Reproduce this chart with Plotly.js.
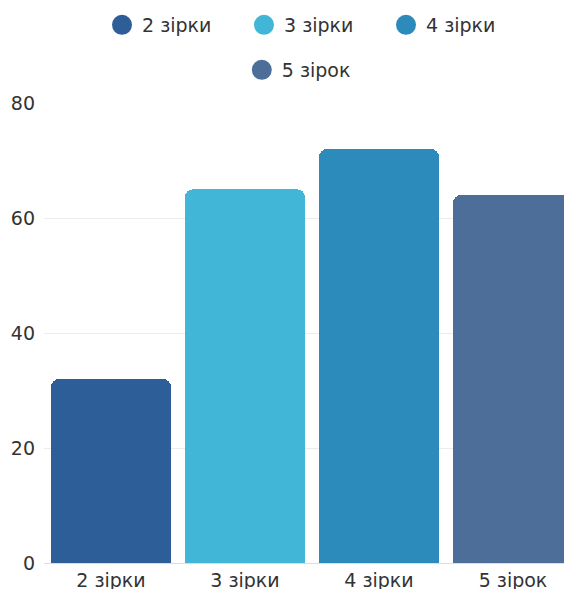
<!DOCTYPE html>
<html>
<head>
<meta charset="utf-8">
<script src="https://cdn.plot.ly/plotly-3.0.1.min.js"></script>
<style>html,body{margin:0;padding:0;overflow:hidden;background:#fff}</style>
</head>
<body>
<div id="chart"></div>
<script>
const categories = ["2 зірки", "3 зірки", "4 зірки", "5 зірок"];
const values = [32, 65, 72, 64];
const colors = ["#2E5E97", "#41B6D6", "#2C8BBA", "#4E6E9A"];
const yTicks = [0, 20, 40, 60, 80];

const FONT = "DejaVu Sans, sans-serif";
const traces = [];
categories.forEach((c, i) => {
  traces.push({
    type: "bar",
    x: [c],
    y: [values[i]],
    marker: {color: colors[i], cornerradius: 8},
    showlegend: false,
    hoverinfo: "x+y"
  });
});
categories.forEach((c, i) => {
  traces.push({
    type: "scatter",
    mode: "markers",
    x: [null],
    y: [null],
    name: c,
    marker: {color: colors[i], size: 16, symbol: "circle", line: {color: colors[i], width: 4}},
    legend: i < 3 ? "legend" : "legend2",
    showlegend: true
  });
});

const layout = {
  width: 600,
  height: 589,
  margin: {l: 44, r: 20, t: 103, b: 26, autoexpand: false},
  paper_bgcolor: "#fff",
  plot_bgcolor: "#fff",
  font: {family: FONT, size: 19, color: "#333"},
  barmode: "stack",
  bargap: 0.104,
  xaxis: {
    type: "category",
    categoryorder: "array",
    categoryarray: categories,
    showgrid: false,
    showline: true,
    linecolor: "#dddddd",
    linewidth: 1,
    ticks: "",
    tickfont: {family: FONT, size: 19, color: "#333"},
    fixedrange: true
  },
  yaxis: {
    range: [0, 80],
    tickvals: yTicks,
    showgrid: true,
    gridcolor: "#ececec",
    zeroline: false,
    showline: false,
    ticks: "",
    ticklabelstandoff: 8,
    tickfont: {family: FONT, size: 19, color: "#333"},
    fixedrange: true
  },
  legend: {
    orientation: "h",
    traceorder: "normal",
    xref: "container", yref: "container",
    x: 0.525, xanchor: "center",
    y: 1 - 25 / 589, yanchor: "middle",
    entrywidth: 97, entrywidthmode: "pixels",
    font: {family: FONT, size: 19, color: "#333"},
    itemclick: false
  },
  legend2: {
    orientation: "h",
    traceorder: "normal",
    xref: "container", yref: "container",
    x: 0.498, xanchor: "center",
    y: 1 - 70 / 589, yanchor: "middle",
    font: {family: FONT, size: 19, color: "#333"},
    itemclick: false
  },
  showlegend: true
};

Plotly.newPlot("chart", traces, layout, {displayModeBar: false, staticPlot: true});
</script>
</body>
</html>
